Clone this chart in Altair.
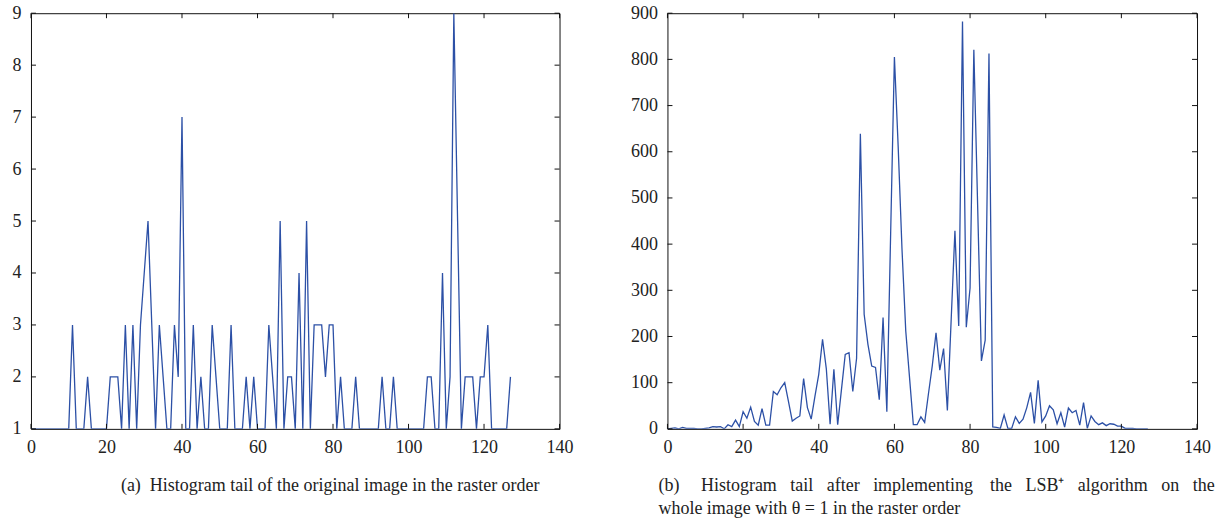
import altair as alt
import pandas as pd

# Histogram tail of the original image (raster order)
bins_a = list(range(0, 128))
counts_a = [
    1, 1, 1, 1, 1, 1, 1, 1, 1, 1, 1, 3, 1, 1, 1, 2, 1, 1, 1, 1,
    1, 2, 2, 2, 1, 3, 1, 3, 1, 3, 4, 5, 3, 1, 3, 2, 1, 1, 3, 2,
    7, 1, 1, 3, 1, 2, 1, 1, 3, 2, 1, 1, 1, 3, 1, 1, 1, 2, 1, 2,
    1, 1, 1, 3, 2, 1, 5, 1, 2, 2, 1, 4, 1, 5, 1, 3, 3, 3, 2, 3,
    3, 1, 2, 1, 1, 1, 2, 1, 1, 1, 1, 1, 1, 2, 1, 1, 2, 1, 1, 1,
    1, 1, 1, 1, 1, 2, 2, 1, 1, 4, 1, 2, 9, 5, 1, 2, 2, 2, 1, 2,
    2, 3, 1, 1, 1, 1, 1, 2,
]

# Histogram tail after the LSB+ embedding (theta = 1, raster order)
bins_b = list(range(0, 128))
counts_b = [
    0, 1, 2, 0, 3, 1, 1, 1, 0, 0, 1, 2, 5, 4, 5, 0, 9, 5, 19, 5,
    37, 23, 47, 16, 8, 44, 8, 8, 81, 74, 89, 100, 59, 17, 23, 28, 109, 46, 21, 71,
    118, 194, 130, 10, 129, 9, 85, 161, 165, 81, 153, 639, 248, 183, 136, 133, 63, 241, 37, 421,
    805, 610, 390, 212, 111, 9, 9, 26, 14, 76, 136, 208, 127, 174, 40, 235, 429, 223, 882, 220,
    305, 821, 484, 147, 192, 813, 4, 3, 1, 30, 1, 1, 26, 12, 21, 46, 79, 12, 105, 15,
    28, 50, 41, 11, 35, 4, 45, 35, 40, 8, 57, 1, 28, 16, 9, 13, 7, 11, 10, 6,
    6, 1, 1, 1, 0, 0, 0, 0,
]

x_ticks = [0, 20, 40, 60, 80, 100, 120, 140]
y_ticks_a = [1, 2, 3, 4, 5, 6, 7, 8, 9]
y_ticks_b = [0, 100, 200, 300, 400, 500, 600, 700, 800, 900]

caption_a = "(a)\u00a0\u00a0Histogram tail of the original image in the raster order"
# justified first line: widened word gaps made of non-breaking spaces
gap = "\u00a0\u00a0\u00a0"
wide_gap = "\u00a0\u00a0\u00a0\u2009"
caption_b = [
    "(b)\u00a0\u00a0\u00a0\u00a0\u2009Histogram" + gap + "tail" + gap + "after" + gap
    + "implementing" + wide_gap + "the" + gap + "LSB\u207a" + gap + "algorithm"
    + gap + "on" + gap + "the",
    "whole image with \u03b8 = 1 in the raster order",
]

LINE = "#2C50A6"
FRAME = "#111111"
TEXT = "#222222"
FONT = "Liberation Serif"
W_A, W_B, H = 529, 530, 416
TICK = 5


def panel(bins, counts, y_domain, y_ticks, width, caption, dx):
    df = pd.DataFrame({"bin": bins, "count": counts})
    xt = pd.DataFrame({"bin": x_ticks})
    yt = pd.DataFrame({"count": y_ticks})

    x_scale = alt.Scale(domain=[0, 140], nice=False, zero=False)
    y_scale = alt.Scale(domain=y_domain, nice=False, zero=False)
    x_axis = alt.Axis(values=x_ticks, title=None, labelPadding=10)
    y_axis = alt.Axis(values=y_ticks, title=None, labelPadding=10)

    x_enc = alt.X("bin:Q", scale=x_scale, axis=x_axis)
    y_enc = alt.Y("count:Q", scale=y_scale, axis=y_axis)

    line = alt.Chart(df).mark_line(color=LINE, strokeWidth=1.3, clip=True).encode(
        x=x_enc, y=y_enc
    )
    # inward tick marks on all four sides of the box
    bottom = alt.Chart(xt).mark_rule(color=FRAME, strokeWidth=1).encode(
        x=x_enc, y=alt.value(H), y2=alt.value(H - TICK)
    )
    top = alt.Chart(xt).mark_rule(color=FRAME, strokeWidth=1).encode(
        x=x_enc, y=alt.value(0), y2=alt.value(TICK)
    )
    left = alt.Chart(yt).mark_rule(color=FRAME, strokeWidth=1).encode(
        y=y_enc, x=alt.value(0), x2=alt.value(TICK)
    )
    right = alt.Chart(yt).mark_rule(color=FRAME, strokeWidth=1).encode(
        y=y_enc, x=alt.value(width - TICK), x2=alt.value(width)
    )

    title = alt.TitleParams(
        text=caption,
        orient="bottom",
        anchor="start",
        frame="group",
        dx=dx,
        offset=20,
        font=FONT,
        fontSize=18,
        fontWeight="normal",
        color=TEXT,
        lineHeight=23,
    )
    return alt.layer(line, bottom, top, left, right).properties(
        width=width, height=H, title=title
    )


chart_a = panel(bins_a, counts_a, [1, 9], y_ticks_a, W_A, caption_a, 90)
chart_b = panel(bins_b, counts_b, [0, 900], y_ticks_b, W_B, caption_b, -9)

chart = (
    alt.hconcat(chart_a, chart_b, spacing=108, bounds="flush")
    .properties(padding={"left": 11, "top": 3, "right": 5, "bottom": 5})
    .configure_view(stroke=FRAME, strokeWidth=1)
    .configure_axis(
        labelFont=FONT,
        labelFontSize=18,
        labelColor=TEXT,
        domain=False,
        ticks=False,
        grid=False,
        labelFlush=False,
        labelOverlap=False,
        minExtent=0,
    )
)

chart.save("out.html", embed_options={"renderer": "svg", "actions": False})
